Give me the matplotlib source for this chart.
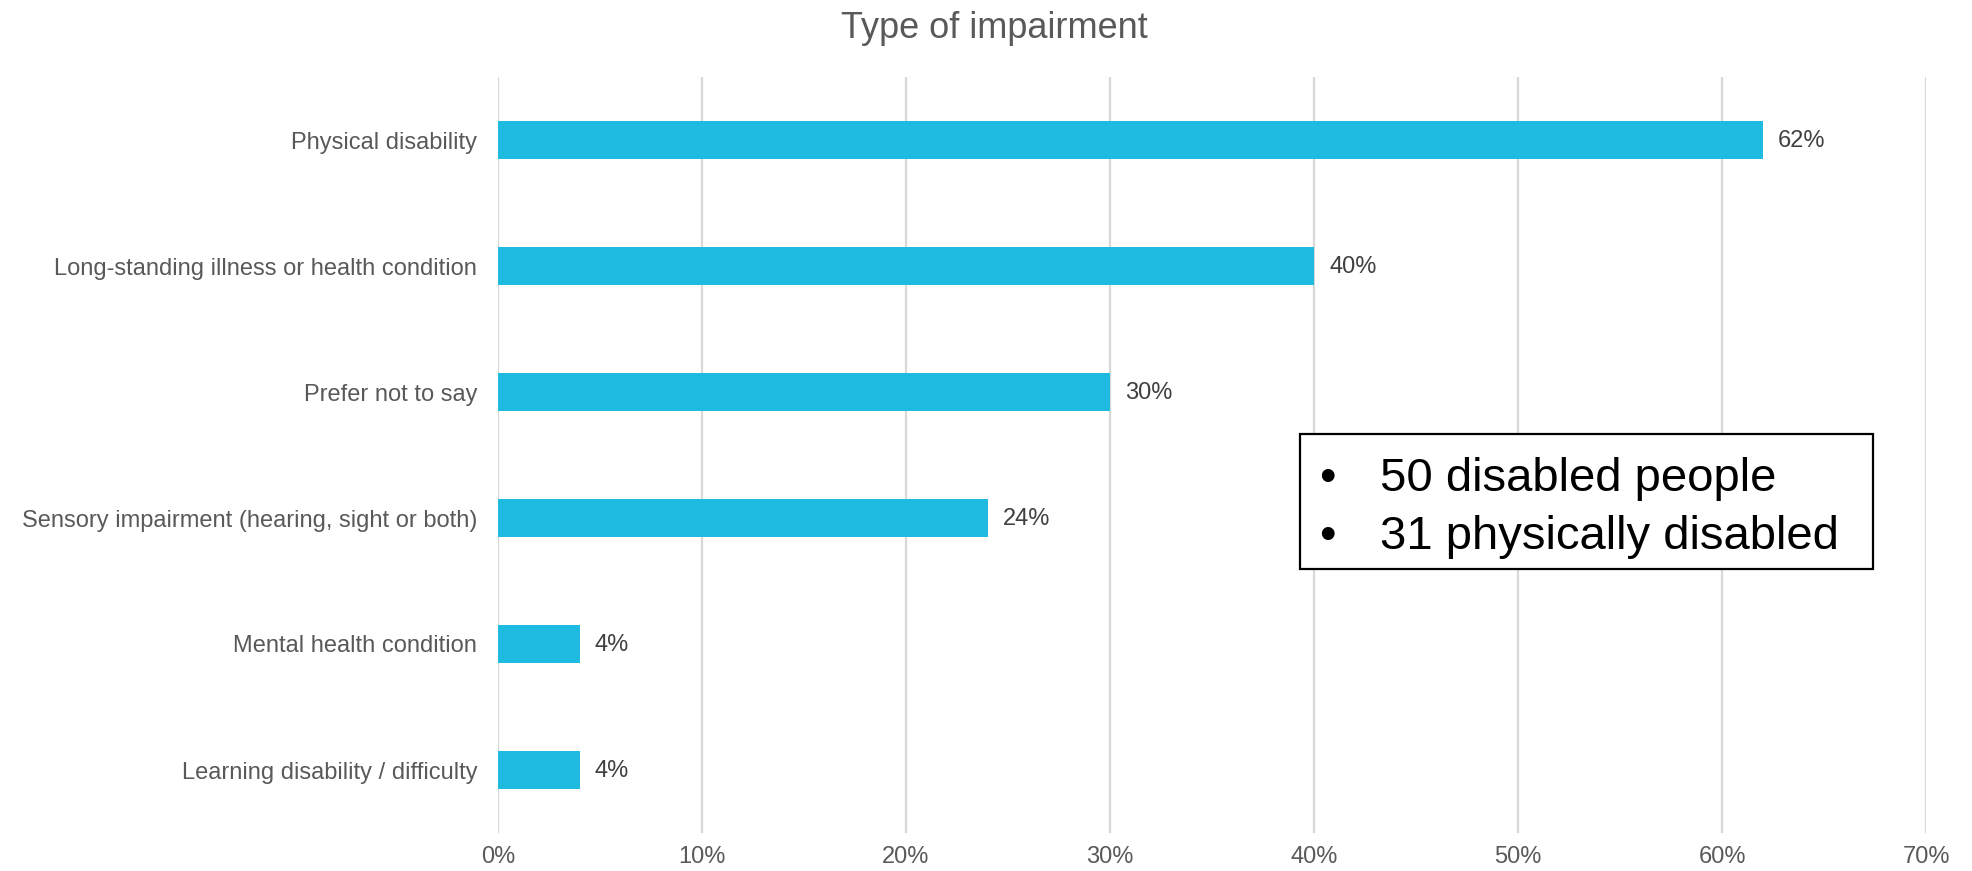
import matplotlib.pyplot as plt
from matplotlib.patches import Rectangle

plt.rcParams['font.family'] = ['Liberation Sans', 'DejaVu Sans']

# data
categories = ["Physical disability",
              "Long-standing illness or health condition",
              "Prefer not to say",
              "Sensory impairment (hearing, sight or both)",
              "Mental health condition",
              "Learning disability / difficulty"]
values = [62, 40, 30, 24, 4, 4]
xticks = [0, 10, 20, 30, 40, 50, 60, 70]
notes = ["50 disabled people", "31 physically disabled"]

W, H = 1972, 871
fig = plt.figure(figsize=(W / 100, H / 100), dpi=100, facecolor='w')
ax = fig.add_axes([498 / W, 1 - 833 / H, (1926 - 498) / W, (833 - 77) / H])

ypos = list(range(len(categories)))
ax.barh(ypos, values, height=0.3, color='#1EBADF', zorder=3)
ax.set_ylim(len(categories) - 0.5, -0.5)
ax.set_xlim(0, 70)

ax.set_yticks(ypos)
ax.set_yticklabels(categories, fontsize=17, color='#595959')
ax.set_xticks(xticks)
ax.set_xticklabels(["%d%%" % t for t in xticks], fontsize=17, color='#595959')
ax.tick_params(axis='y', length=0, pad=15)
ax.tick_params(axis='x', length=0, pad=9)
for s in ax.spines.values():
    s.set_visible(False)
ax.xaxis.grid(True, color='#D9D9D9', linewidth=1.6, zorder=0)
ax.set_axisbelow(True)

for y, v in zip(ypos, values):
    ax.annotate("%d%%" % v, (v, y), xytext=(11, -1), textcoords='offset points',
                va='center', ha='left', fontsize=17, color='#404040')

fig.text(994 / W, 1 - 28 / H, "Type of impairment", ha='center', va='center',
         fontsize=26, color='#595959')

# note box
fig.patches.append(Rectangle((1300 / W, 1 - 569 / H), (1873 - 1300) / W, (569 - 434) / H,
                             transform=fig.transFigure, facecolor='w',
                             edgecolor='black', linewidth=1.6, zorder=5))
for i, line in enumerate(notes):
    yb = 1 - (491 + 58 * i) / H
    fig.text(1327 / W, yb, "\u2022", ha='center', va='baseline', fontsize=34,
             color='black', zorder=6)
    fig.text(1380 / W, yb, line, ha='left', va='baseline', fontsize=34,
             color='black', zorder=6)

fig.savefig('out.png', dpi=100)
